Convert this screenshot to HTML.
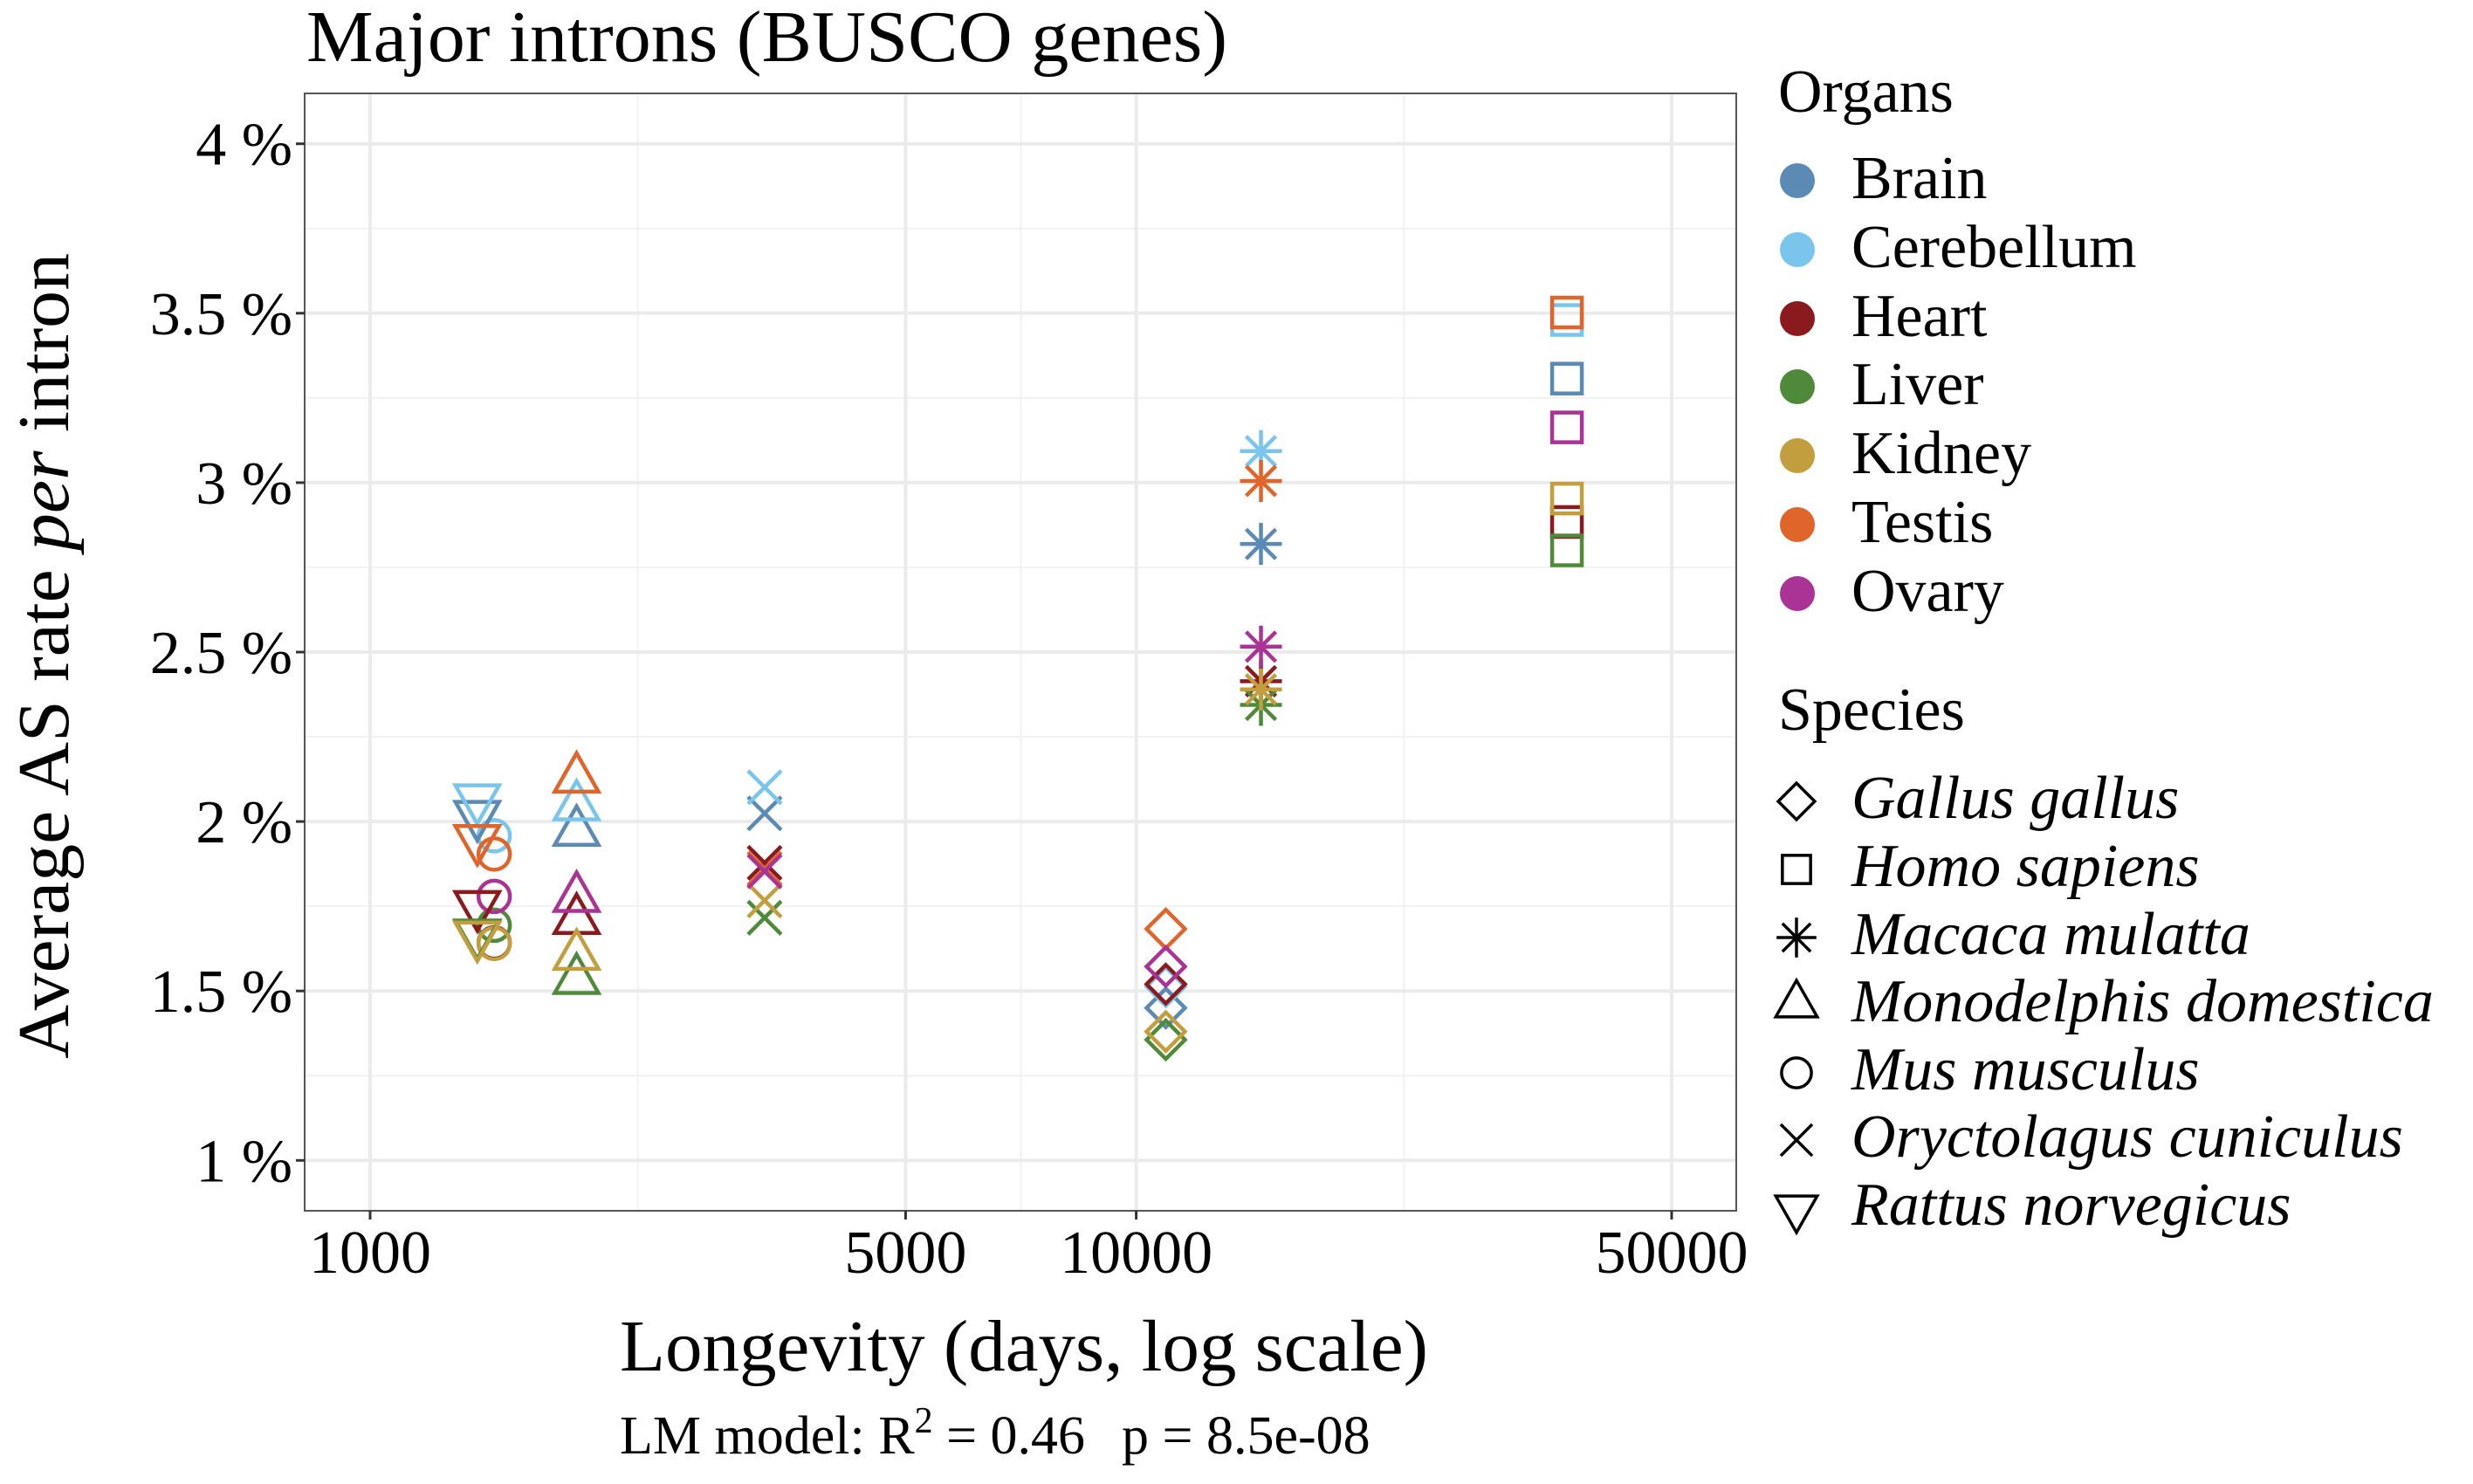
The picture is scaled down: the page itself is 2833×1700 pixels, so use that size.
<!DOCTYPE html>
<html><head><meta charset="utf-8">
<style>
html,body{margin:0;padding:0;background:#fff;}
svg{display:block;font-family:"Liberation Serif",serif;}
</style></head>
<body>
<svg id="chart" width="2833" height="1700" viewBox="0 0 2833 1700" xmlns="http://www.w3.org/2000/svg">
  <rect x="0" y="0" width="2833" height="1700" fill="#fff"/>
  <text x="351" y="70" font-size="84" textLength="1055" lengthAdjust="spacingAndGlyphs">Major introns (BUSCO genes)</text>
  <g id="grid"></g>
  <g id="marks"></g>
  <rect x="349" y="107" width="1640" height="1280" fill="none" stroke="#555" stroke-width="2"/>
  <g id="axes"></g>
  <text x="710" y="1570" font-size="84" textLength="926" lengthAdjust="spacingAndGlyphs">Longevity (days, log scale)</text>
  <text x="710" y="1665" font-size="62">LM model: R<tspan dy="-24" font-size="42">2</tspan><tspan dy="24"> = 0.46</tspan></text>
  <text x="1285" y="1665" font-size="62">p = 8.5e-08</text>
  <text transform="translate(78,1213) rotate(-90)" font-size="84" textLength="923" lengthAdjust="spacingAndGlyphs">Average AS rate <tspan font-style="italic">per</tspan> intron</text>
  <g id="legend"></g>
</svg>
<script>
const organs = ["Brain","Cerebellum","Heart","Liver","Kidney","Testis","Ovary"];
const organColors = ["#5B8AB5","#7AC5EC","#8B1A1F","#4F8A3A","#C39E3E","#E0652B","#A93495"];
const species = ["Gallus gallus","Homo sapiens","Macaca mulatta","Monodelphis domestica","Mus musculus","Oryctolagus cuniculus","Rattus norvegicus"];
const speciesShapes = ["diamond","square","asterisk","triangle","circle","cross","downtriangle"];
const longevity = [10930, 36500, 14550, 1860, 1452, 3273, 1380];
// rates (%) per species, ordered like organs
const ratesGallus = [1.45, 1.513, 1.52, 1.356, 1.38, 1.683, 1.572];
const ratesHomo = [3.307, 3.48, 2.884, 2.80, 2.953, 3.502, 3.163];
const ratesMacaca = [2.819, 3.093, 2.414, 2.344, 2.39, 3.005, 2.516];
const ratesMonodelphis = [1.969, 2.044, 1.709, 1.532, 1.603, 2.126, 1.774];
const ratesMus = [null, 1.958, 1.642, 1.694, 1.64, 1.904, 1.779];
const ratesOryctolagus = [2.024, 2.101, 1.878, 1.716, 1.767, 1.861, 1.853];
const ratesRattus = [2.020, 2.069, 1.754, 1.67, 1.664, 1.949, null];
const allRates = [ratesGallus, ratesHomo, ratesMacaca, ratesMonodelphis, ratesMus, ratesOryctolagus, ratesRattus];
const xTicks = [1000, 5000, 10000, 50000];
const xTickLabels = ["1000","5000","10000","50000"];
const xMinorTicks = [2236, 7071, 22360];
const yTicks = [1, 1.5, 2, 2.5, 3, 3.5, 4];
const yTickLabels = ["1 %","1.5 %","2 %","2.5 %","3 %","3.5 %","4 %"];
const yMinorTicks = [1.25, 1.75, 2.25, 2.75, 3.25, 3.75];

const NS = "http://www.w3.org/2000/svg";
const PL = 349, PR = 1989, PT = 107, PB = 1387;
function xs(v){ return 424 + (Math.log10(v) - 3) * 877.6; }
function ys(v){ return 164.7 + (4 - v) * 388.2; }
function mk(tag, attrs, parent){
  const e = document.createElementNS(NS, tag);
  for (const k in attrs) e.setAttribute(k, attrs[k]);
  parent.appendChild(e); return e;
}
const grid = document.getElementById('grid');
const axes = document.getElementById('axes');
const marks = document.getElementById('marks');
const legend = document.getElementById('legend');

yMinorTicks.forEach(v => {
  const l = mk('line', {x1:PL, x2:PR, y1:ys(v), y2:ys(v), stroke:'#f2f2f2', 'stroke-width':2}, grid);
  
  
});
xMinorTicks.forEach(v => {
  const l = mk('line', {x1:xs(v), x2:xs(v), y1:PT, y2:PB, stroke:'#f2f2f2', 'stroke-width':2}, grid);
  
  
});
yTicks.forEach((v, i) => {
  const l = mk('line', {x1:PL, x2:PR, y1:ys(v), y2:ys(v), stroke:'#ebebeb', 'stroke-width':4}, grid);
  
  
  const t = mk('line', {x1:PL-10, x2:PL, y1:ys(v), y2:ys(v), stroke:'#333', 'stroke-width':3}, axes);
  
  
  const tx = mk('text', {x:PL-14, y:ys(v)+24, 'font-size':70, 'text-anchor':'end'}, axes);
  tx.textContent = yTickLabels[i];
  
  
});
xTicks.forEach((v, i) => {
  const l = mk('line', {x1:xs(v), x2:xs(v), y1:PT, y2:PB, stroke:'#ebebeb', 'stroke-width':4}, grid);
  
  
  const t = mk('line', {x1:xs(v), x2:xs(v), y1:PB, y2:PB+10, stroke:'#333', 'stroke-width':3}, axes);
  
  
  const tx = mk('text', {x:xs(v), y:1458, 'font-size':70, 'text-anchor':'middle'}, axes);
  tx.textContent = xTickLabels[i];
  
  
});

function shape(kind, cx, cy, color, sc, sw, parent){
  const g = mk('g', {fill:'none', stroke:color, 'stroke-width':sw, 'stroke-linejoin':'miter'}, parent);
  if (kind === 'diamond'){
    const r = 22*sc;
    mk('polygon', {points:`${cx},${cy-r} ${cx+r},${cy} ${cx},${cy+r} ${cx-r},${cy}`}, g);
  } else if (kind === 'square'){
    const r = 17*sc;
    mk('rect', {x:cx-r, y:cy-r, width:2*r, height:2*r}, g);
  } else if (kind === 'circle'){
    mk('circle', {cx:cx, cy:cy, r:18*sc}, g);
  } else if (kind === 'triangle'){
    const w = 25*sc, h = 44*sc;
    mk('polygon', {points:`${cx},${cy-2*h/3} ${cx+w},${cy+h/3} ${cx-w},${cy+h/3}`}, g);
  } else if (kind === 'downtriangle'){
    const w = 25*sc, h = 44*sc;
    mk('polygon', {points:`${cx},${cy+2*h/3} ${cx+w},${cy-h/3} ${cx-w},${cy-h/3}`}, g);
  } else if (kind === 'cross'){
    const r = 19*sc;
    mk('line', {x1:cx-r, y1:cy-r, x2:cx+r, y2:cy+r}, g);
    mk('line', {x1:cx-r, y1:cy+r, x2:cx+r, y2:cy-r}, g);
  } else if (kind === 'asterisk'){
    const r = 17*sc, R = 24*sc;
    mk('line', {x1:cx-r, y1:cy-r, x2:cx+r, y2:cy+r}, g);
    mk('line', {x1:cx-r, y1:cy+r, x2:cx+r, y2:cy-r}, g);
    mk('line', {x1:cx-R, y1:cy, x2:cx+R, y2:cy}, g);
    mk('line', {x1:cx, y1:cy-R, x2:cx, y2:cy+R}, g);
  }
  return g;
}

allRates.forEach((arr, si) => {
  arr.forEach((v, oi) => {
    if (v === null) return;
    const g = shape(speciesShapes[si], xs(longevity[si]), ys(v), organColors[oi], 1, 4.5, marks);
    
    
  });
});

// legends
const ot = mk('text', {x:2037, y:128, 'font-size':70}, legend);
ot.textContent = 'Organs';


const organY = [207, 286, 365, 443, 522, 601, 680];
organs.forEach((o, i) => {
  const c = mk('circle', {cx:2059, cy:organY[i], r:20, fill:organColors[i]}, legend);
  
  
  const t = mk('text', {x:2121, y:organY[i]+20, 'font-size':70}, legend);
  t.textContent = o;
  
  
});
const st = mk('text', {x:2037, y:836, 'font-size':70}, legend);
st.textContent = 'Species';


const specY = [918, 996, 1074, 1151, 1229, 1306, 1384];
species.forEach((s, i) => {
  const g = shape(speciesShapes[i], 2058, specY[i], '#000', 0.95, 3.5, legend);
  
  
  const t = mk('text', {x:2121, y:specY[i]+19, 'font-size':70, 'font-style':'italic'}, legend);
  t.textContent = s;
  
  
});
</script>
</body></html>
